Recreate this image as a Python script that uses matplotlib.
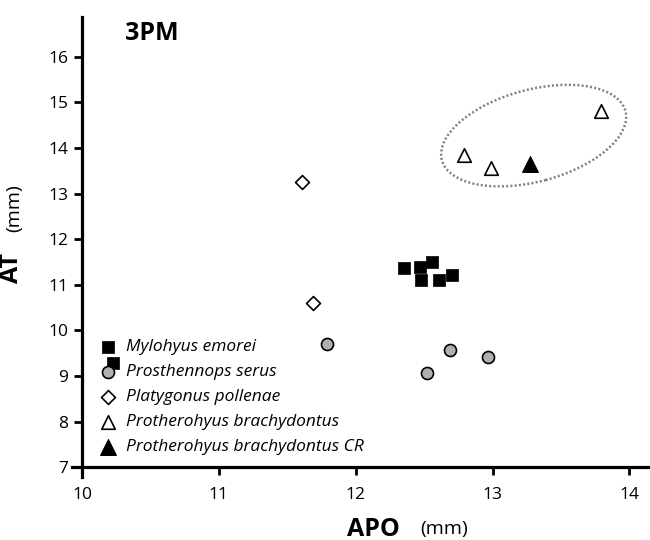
import matplotlib
matplotlib.use("Agg")
import matplotlib.pyplot as plt
from matplotlib.patches import Ellipse
from matplotlib.transforms import ScaledTranslation

plt.rcParams['font.family'] = ['Open Sans', 'DejaVu Sans']

# APO (mm) / AT (mm) values
mylohyus_apo = [12.35, 12.47, 12.56, 12.48, 12.61, 12.70, 10.23]
mylohyus_at = [11.37, 11.39, 11.49, 11.10, 11.11, 11.22, 9.29]

prosthennops_apo = [11.79, 12.52, 12.69, 12.97]
prosthennops_at = [9.70, 9.06, 9.57, 9.41]

platygonus_apo = [11.61, 11.69]
platygonus_at = [13.25, 10.60]

protherohyus_apo = [12.79, 12.99, 13.79]
protherohyus_at = [13.85, 13.55, 14.82]

protherohyus_cr_apo = [13.27]
protherohyus_cr_at = [13.65]

labels = ["Mylohyus emorei", "Prosthennops serus", "Platygonus pollenae",
          "Protherohyus brachydontus", "Protherohyus brachydontus CR"]

fig = plt.figure(figsize=(6.5, 5.4), dpi=100)
ax = fig.add_axes([0.1114, 0.1161, 0.8886, 0.8524])

ax.scatter(mylohyus_apo, mylohyus_at, marker='s', s=65, color='black',
           edgecolors='black', linewidths=0.5, label=labels[0], zorder=3)
ax.scatter(prosthennops_apo, prosthennops_at, marker='o', s=75, color='#b0b0b0',
           edgecolors='black', linewidths=1.2, label=labels[1], zorder=3)
ax.scatter(platygonus_apo, platygonus_at, marker='D', s=50, color='white',
           edgecolors='black', linewidths=1.2, label=labels[2], zorder=3)
ax.scatter(protherohyus_apo, protherohyus_at, marker='^', s=95, color='white',
           edgecolors='black', linewidths=1.2, label=labels[3], zorder=3)
ax.scatter(protherohyus_cr_apo, protherohyus_cr_at, marker='^', s=130, color='black',
           edgecolors='black', linewidths=0.8, label=labels[4], zorder=3)

# dotted ellipse around the Protherohyus group
ell = Ellipse((0, 0), width=1.90, height=0.92, angle=15, fill=False,
              edgecolor='#808080', linewidth=1.8, linestyle=(0, (0.8, 0.9)),
              transform=fig.dpi_scale_trans + ScaledTranslation(13.30, 14.27, ax.transData))
ax.add_patch(ell)

ax.set_xlim(9.93, 14.15)
ax.set_ylim(6.78, 16.87)
ax.set_xticks([10, 11, 12, 13, 14])
ax.set_yticks([7, 8, 9, 10, 11, 12, 13, 14, 15, 16])

for side in ['top', 'right']:
    ax.spines[side].set_visible(False)
ax.spines['left'].set_position(('data', 10))
ax.spines['bottom'].set_position(('data', 7))
ax.spines['left'].set_linewidth(2.3)
ax.spines['bottom'].set_linewidth(2.3)
ax.tick_params(axis='both', direction='out', length=6, width=2, labelsize=12.5)
ax.tick_params(axis='x', pad=8)
ax.tick_params(axis='y', pad=4)

leg = ax.legend(loc='upper left', bbox_to_anchor=(99 / 650, 1 - 339 / 540),
                bbox_transform=fig.transFigure, frameon=False, fontsize=12.5,
                handlelength=1.0, handletextpad=0.55, labelspacing=0.51,
                borderpad=0, borderaxespad=0)
for t in leg.get_texts():
    t.set_fontstyle('italic')

fig.text(152 / 650, 1 - 33 / 540, "3PM", fontsize=18, fontweight='bold',
         ha='center', va='center')
fig.text(400 / 650, 1 - 529 / 540, "APO", fontsize=18, fontweight='bold',
         ha='right', va='center')
fig.text(420 / 650, 1 - 529 / 540, "(mm)", fontsize=14, ha='left', va='center')
fig.text(11 / 650, 1 - 268 / 540, "AT", fontsize=18, fontweight='bold',
         rotation=90, ha='center', va='center')
fig.text(14 / 650, 1 - 208 / 540, "(mm)", fontsize=14, rotation=90,
         ha='center', va='center')

fig.savefig("out.png", dpi=100)
